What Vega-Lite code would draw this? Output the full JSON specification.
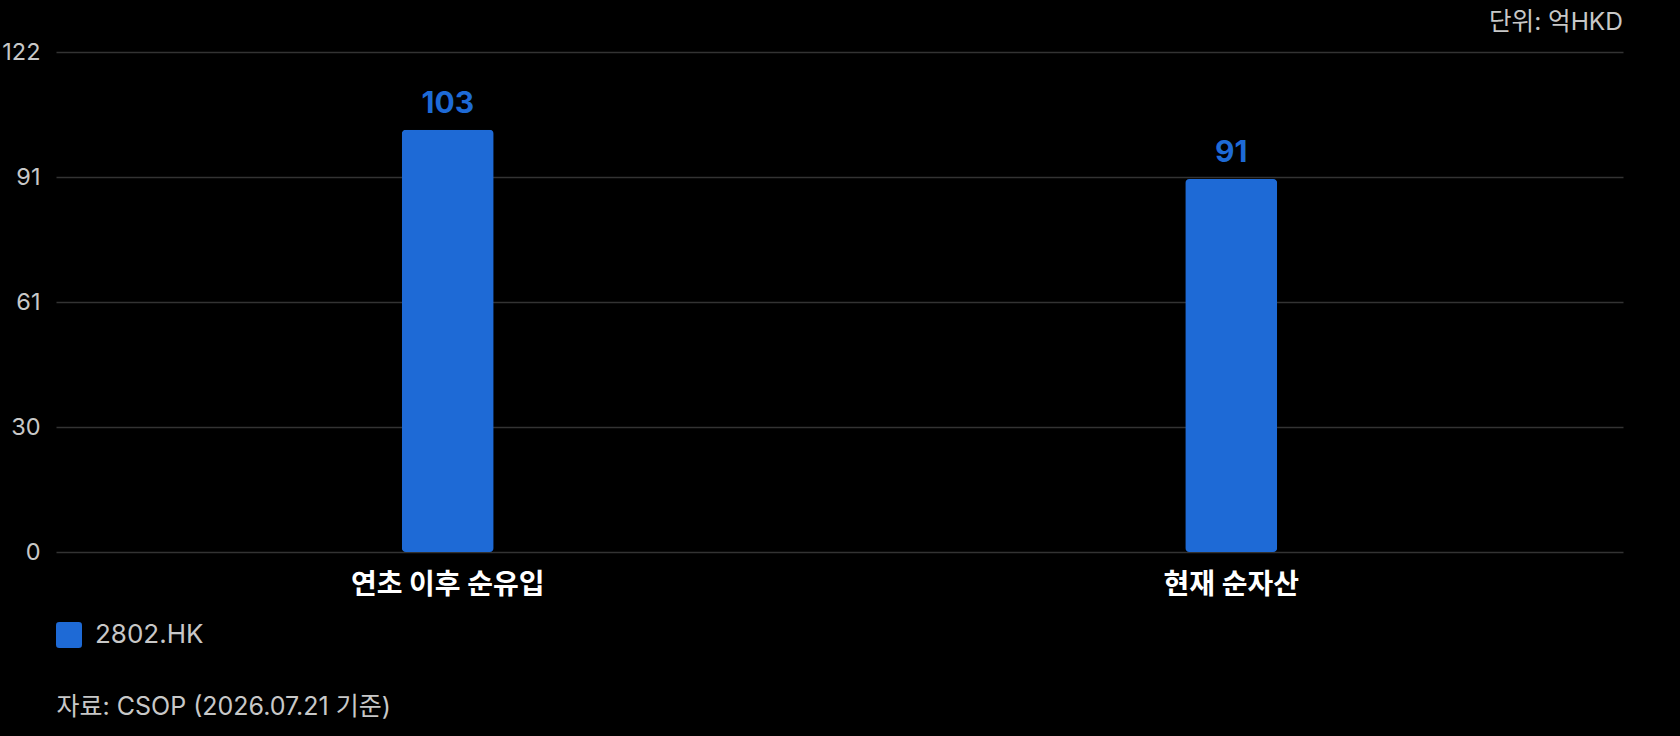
{
  "$schema": "https://vega.github.io/schema/vega-lite/v6.json",
  "autosize": "none",
  "width": 1567,
  "height": 500,
  "padding": {"left": 56, "top": 52, "right": 57, "bottom": 184},
  "background": "#000000",
  "config": {
    "view": {"stroke": null},
    "font": "Inter, Noto Sans CJK KR, sans-serif"
  },
  "title": {
    "text": "단위: 억HKD",
    "anchor": "end",
    "orient": "top",
    "fontSize": 24.5,
    "fontWeight": "normal",
    "color": "#c8c8c8",
    "font": "Inter, Noto Sans CJK KR, sans-serif",
    "offset": 5
  },
  "data": {
    "values": [
      {"category": "연초 이후 순유입", "series": "2802.HK", "value": 103},
      {"category": "현재 순자산", "series": "2802.HK", "value": 91}
    ]
  },
  "encoding": {
    "x": {
      "field": "category",
      "type": "nominal",
      "sort": ["연초 이후 순유입", "현재 순자산"],
      "scale": {"paddingInner": 0, "paddingOuter": 0},
      "axis": {
        "title": "자료: CSOP (2026.07.21 기준)",
        "titleFontSize": 25,
        "titleFontWeight": "normal",
        "titleColor": "#c8c8c8",
        "titleAnchor": "start",
        "titleAlign": "left",
        "titleBaseline": "middle",
        "titleX": 0,
        "titleY": 154,
        "titleLimit": 1000,
        "labelAngle": 0,
        "labelFontSize": 28,
        "labelFontWeight": "bold",
        "labelColor": "#ffffff",
        "labelPadding": 19,
        "labelLimit": 1000,
        "ticks": false,
        "domain": false,
        "grid": false
      }
    },
    "y": {
      "field": "value",
      "type": "quantitative",
      "scale": {"domain": [0, 122], "nice": false},
      "axis": {
        "title": null,
        "values": [0, 30.5, 61, 91.5, 122],
        "labelExpr": "'' + floor(datum.value)",
        "labelFontSize": 23.5,
        "labelColor": "#c8c8c8",
        "labelPadding": 16,
        "ticks": false,
        "domain": false,
        "gridColor": "#333333",
        "gridWidth": 1.5
      }
    }
  },
  "layer": [
    {
      "mark": {"type": "bar", "size": 92, "cornerRadius": 4},
      "encoding": {
        "color": {
          "field": "series",
          "type": "nominal",
          "scale": {"range": ["#1e6ad6"]},
          "legend": {
            "title": null,
            "orient": "none",
            "legendX": 0,
            "legendY": 570,
            "symbolType": "M-0.75,-1H0.75Q1,-1 1,-0.75V0.75Q1,1 0.75,1H-0.75Q-1,1 -1,0.75V-0.75Q-1,-1 -0.75,-1Z",
            "symbolSize": 676,
            "symbolStrokeWidth": 0,
            "labelFontSize": 26,
            "labelColor": "#c8c8c8",
            "labelOffset": 13
          }
        }
      }
    },
    {
      "mark": {
        "type": "text",
        "baseline": "alphabetic",
        "dy": -17,
        "fontSize": 30,
        "fontWeight": "bold",
        "color": "#1e6ad6"
      },
      "encoding": {
        "text": {"field": "value", "type": "quantitative"}
      }
    }
  ]
}
